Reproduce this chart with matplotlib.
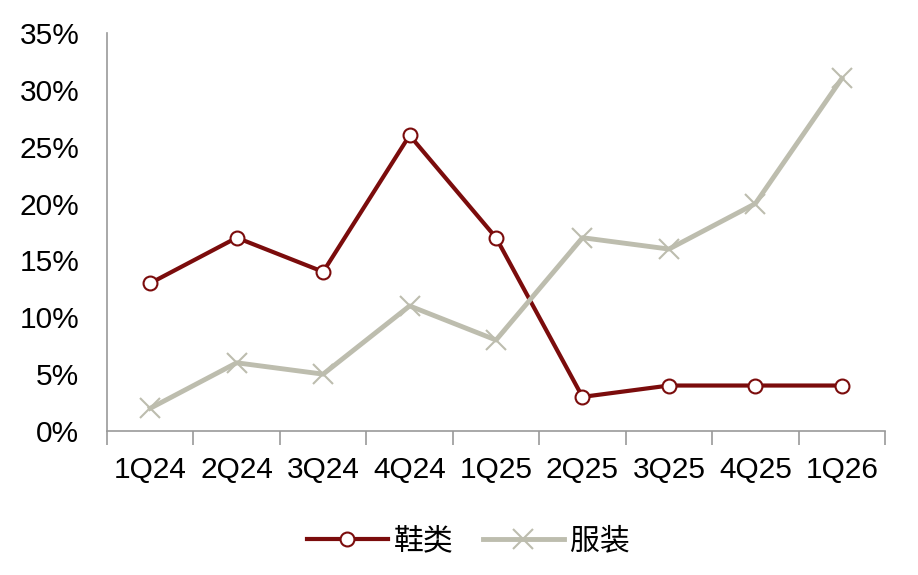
import matplotlib.pyplot as plt
from matplotlib.ticker import FuncFormatter

plt.rcParams['font.family'] = ['Liberation Sans', 'Noto Sans CJK SC', 'DejaVu Sans']

quarters = ['1Q24', '2Q24', '3Q24', '4Q24', '1Q25', '2Q25', '3Q25', '4Q25', '1Q26']
shoes = [13, 17, 14, 26, 17, 3, 4, 4, 4]
apparel = [2, 6, 5, 11, 8, 17, 16, 20, 31]
labels = ['鞋类', '服装']

red = '#7B0C0C'
grey = '#BDBDAE'

fig = plt.figure(figsize=(9.18, 5.75), dpi=100)
ax = fig.add_axes([0.1166, 0.2504, 0.8475, 0.6922])

x = range(len(quarters))
ax.plot(x, shoes, color=red, lw=3, marker='o', ms=10, mfc='white',
        mec=red, mew=1.5, label=labels[0])
ax.plot(x, apparel, color=grey, lw=3.5, marker='x', ms=14,
        mew=1.5, label=labels[1])

ax.set_xlim(-0.5, len(quarters) - 0.5)
ax.set_ylim(0, 35)
ax.set_yticks(range(0, 36, 5))
ax.yaxis.set_major_formatter(FuncFormatter(lambda v, p: f'{v:.0f}%'))
ax.set_xticks(x)
ax.set_xticklabels(quarters)
ax.set_xticks([i - 0.5 for i in range(len(quarters) + 1)], minor=True)

for s in ['top', 'right']:
    ax.spines[s].set_visible(False)
for s in ['left', 'bottom']:
    ax.spines[s].set_color('#999999')
    ax.spines[s].set_linewidth(1.2)

ax.tick_params(axis='y', length=0, labelsize=21.5, pad=20)
ax.tick_params(axis='x', which='major', length=0, labelsize=21.5, pad=18)
ax.tick_params(axis='x', which='minor', length=10, width=1.2, color='#999999')

leg = fig.legend(loc='center', bbox_to_anchor=(0.51, 0.06), ncol=2,
                 frameon=False, fontsize=21.5, handlelength=2.7,
                 columnspacing=1.0, handletextpad=0.2)
for t in leg.get_texts():
    t.set_family(['Noto Sans CJK SC', 'DejaVu Sans'])

fig.savefig('out.png', dpi=100)
